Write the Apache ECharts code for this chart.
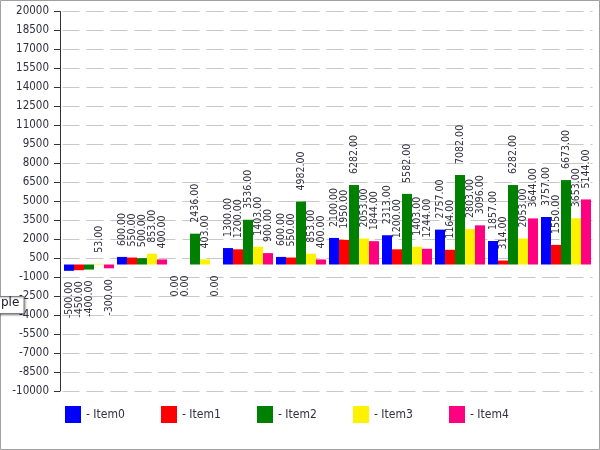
<!DOCTYPE html>
<html>
<head>
<meta charset="utf-8">
<script src="https://cdn.jsdelivr.net/npm/echarts@6/dist/echarts.min.js"></script>
<style>
html,body{margin:0;padding:0;background:#fff;}
#c{width:600px;height:450px;}
</style>
</head>
<body>
<div id="c"></div>
<script>
const categories = ['G1','G2','G3','G4','G5','G6','G7','G8','G9','G10'];
const seriesNames = ['Item0','Item1','Item2','Item3','Item4'];
const item0 = [-500, 600, 0, 1300, 600, 2100, 2313, 2757, 1857, 3757];
const item1 = [-450, 550, 0, 1200, 550, 1950, 1200, 1164, 314, 1550];
const item2 = [-400, 500, 2436, 3536, 4982, 6282, 5582, 7082, 6282, 6673];
const item3 = [53, 853, 403, 1403, 853, 2053, 1403, 2803, 2053, 3653];
const item4 = [-300, 400, 0, 900, 400, 1844, 1244, 3096, 3644, 5144];
const yMin = -10000, yMax = 20000, yStep = 1500;
const tooltipFragment = 'ple';

const colors = ['#0000FF', '#FF0000', '#008000', '#FFF200', '#FF0080'];
const allValues = [item0, item1, item2, item3, item4];
const textColor = '#303040';
const labelFont = '"Liberation Sans Narrow", "DejaVu Sans Condensed", sans-serif';
const axisFont = '"DejaVu Sans Condensed", "DejaVu Sans", sans-serif';

const posLabel = {position: 'top', align: 'left', verticalAlign: 'middle'};
const negLabel = {position: 'bottom', align: 'right', verticalAlign: 'middle'};

const series = seriesNames.map((name, i) => ({
  name: name,
  type: 'bar',
  barWidth: 10,
  barGap: '0%',
  itemStyle: {color: colors[i]},
  label: {
    show: true,
    rotate: 90,
    distance: 11,
    color: textColor,
    fontFamily: labelFont,
    fontSize: 10.5,
    formatter: p => Number(p.value).toFixed(2)
  },
  data: allValues[i].map(v => ({value: v, label: v > 0 ? posLabel : negLabel}))
}));

const legends = seriesNames.map((name, i) => ({
  data: [name],
  left: 65 + 96 * i,
  top: 406,
  padding: 0,
  itemWidth: 16,
  itemHeight: 17,
  icon: 'rect',
  formatter: '- {name}',
  textStyle: {color: textColor, fontFamily: axisFont, fontSize: 12}
}));

const chart = echarts.init(document.getElementById('c'), null, {renderer: 'canvas'});
chart.setOption({
  animation: false,
  color: colors,
  grid: {left: 62.5, right: 7.5, top: 11.5, bottom: 59, containLabel: false},
  legend: legends,
  xAxis: {
    type: 'category',
    data: categories,
    boundaryGap: true,
    axisLine: {show: false},
    axisTick: {show: false},
    axisLabel: {show: false},
    splitLine: {show: false}
  },
  yAxis: {
    type: 'value',
    min: yMin,
    max: yMax,
    interval: yStep,
    offset: 2.5,
    axisLine: {show: true, lineStyle: {color: '#333333', width: 1}},
    axisTick: {show: true, length: 6, lineStyle: {color: '#333333'}},
    axisLabel: {
      margin: 11,
      color: textColor,
      fontFamily: axisFont,
      fontSize: 11.5,
      formatter: v => String(v)
    },
    splitLine: {show: true, lineStyle: {color: '#c8c8c8', type: [17, 7], width: 1}}
  },
  series: series,
  graphic: [
    {
      type: 'rect',
      z: 100,
      silent: true,
      shape: {x: 0.5, y: 0.5, width: 599, height: 449},
      style: {fill: 'none', stroke: '#a0a0a0', lineWidth: 1}
    },
    {
      type: 'rect',
      z: 100,
      silent: true,
      shape: {x: -10, y: 296.5, width: 34, height: 17},
      style: {fill: '#ffffff', stroke: '#808080', lineWidth: 1,
              shadowBlur: 2, shadowOffsetX: 1, shadowOffsetY: 1, shadowColor: 'rgba(0,0,0,0.35)'}
    },
    {
      type: 'text',
      z: 101,
      silent: true,
      left: 1,
      top: 297,
      style: {text: tooltipFragment, fill: '#202030', font: '12px "DejaVu Sans", sans-serif'}
    }
  ]
});
</script>
</body>
</html>
